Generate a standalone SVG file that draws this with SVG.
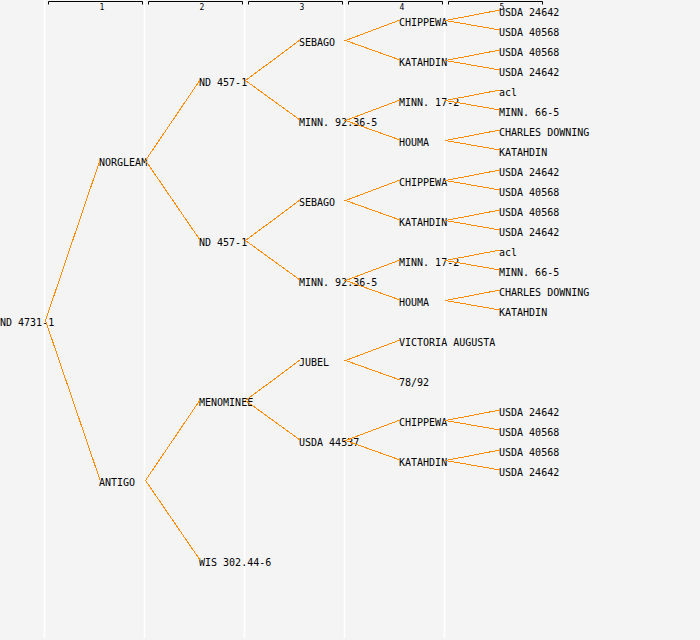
<svg xmlns="http://www.w3.org/2000/svg" width="700" height="640" viewBox="0 0 700 640">
<style>
.bg{fill:#f4f4f4}
.sep{stroke:#ffffff;stroke-width:1.5}
.br{stroke:#000;stroke-width:1;fill:none}
.hd{font-family:"DejaVu Sans Mono","Liberation Mono",monospace;font-size:8px;fill:#000;text-anchor:middle}
.lb{font-family:"DejaVu Sans Mono","Liberation Mono",monospace;font-size:10px;fill:#000}
.ln{stroke:#ff8c00;stroke-width:1;fill:none;shape-rendering:crispEdges}
</style>
<rect class="bg" x="0" y="0" width="700" height="640"/>
<g id="grid">
<line class="sep" x1="44.5" y1="0" x2="44.5" y2="638"/>
<line class="sep" x1="144.5" y1="0" x2="144.5" y2="638"/>
<line class="sep" x1="244.5" y1="0" x2="244.5" y2="638"/>
<line class="sep" x1="344.5" y1="0" x2="344.5" y2="638"/>
<line class="sep" x1="444.5" y1="0" x2="444.5" y2="638"/>
</g>
<g id="header">
<path class="br" d="M48.5 4.5V1.5H142.5V4.5"/><text class="hd" x="102" y="9.5">1</text>
<path class="br" d="M148.5 4.5V1.5H242.5V4.5"/><text class="hd" x="202" y="9.5">2</text>
<path class="br" d="M248.5 4.5V1.5H342.5V4.5"/><text class="hd" x="302" y="9.5">3</text>
<path class="br" d="M348.5 4.5V1.5H442.5V4.5"/><text class="hd" x="402" y="9.5">4</text>
<path class="br" d="M448.5 4.5V1.5H542.5V4.5"/><text class="hd" x="502" y="9.5">5</text>
</g>
<g id="nodes">
<g id="n0"><text class="lb" x="0" y="326">ND 4731-1</text></g>
<g id="n1"><text class="lb" x="99" y="166">NORGLEAM</text></g>
<g id="n2"><text class="lb" x="99" y="486">ANTIGO</text></g>
<g id="n3"><text class="lb" x="199" y="86">ND 457-1</text></g>
<g id="n4"><text class="lb" x="199" y="246">ND 457-1</text></g>
<g id="n5"><text class="lb" x="199" y="406">MENOMINEE</text></g>
<g id="n6"><text class="lb" x="199" y="566">WIS 302.44-6</text></g>
<g id="n7"><text class="lb" x="299" y="46">SEBAGO</text></g>
<g id="n8"><text class="lb" x="299" y="126">MINN. 92.36-5</text></g>
<g id="n9"><text class="lb" x="299" y="206">SEBAGO</text></g>
<g id="n10"><text class="lb" x="299" y="286">MINN. 92.36-5</text></g>
<g id="n11"><text class="lb" x="299" y="366">JUBEL</text></g>
<g id="n12"><text class="lb" x="299" y="446">USDA 44537</text></g>
<g id="n13"><text class="lb" x="399" y="26">CHIPPEWA</text></g>
<g id="n14"><text class="lb" x="399" y="66">KATAHDIN</text></g>
<g id="n15"><text class="lb" x="399" y="106">MINN. 17-2</text></g>
<g id="n16"><text class="lb" x="399" y="146">HOUMA</text></g>
<g id="n17"><text class="lb" x="399" y="186">CHIPPEWA</text></g>
<g id="n18"><text class="lb" x="399" y="226">KATAHDIN</text></g>
<g id="n19"><text class="lb" x="399" y="266">MINN. 17-2</text></g>
<g id="n20"><text class="lb" x="399" y="306">HOUMA</text></g>
<g id="n21"><text class="lb" x="399" y="346">VICTORIA AUGUSTA</text></g>
<g id="n22"><text class="lb" x="399" y="386">78/92</text></g>
<g id="n23"><text class="lb" x="399" y="426">CHIPPEWA</text></g>
<g id="n24"><text class="lb" x="399" y="466">KATAHDIN</text></g>
<g id="n25"><text class="lb" x="499" y="16">USDA 24642</text></g>
<g id="n26"><text class="lb" x="499" y="36">USDA 40568</text></g>
<g id="n27"><text class="lb" x="499" y="56">USDA 40568</text></g>
<g id="n28"><text class="lb" x="499" y="76">USDA 24642</text></g>
<g id="n29"><text class="lb" x="499" y="96">acl</text></g>
<g id="n30"><text class="lb" x="499" y="116">MINN. 66-5</text></g>
<g id="n31"><text class="lb" x="499" y="136">CHARLES DOWNING</text></g>
<g id="n32"><text class="lb" x="499" y="156">KATAHDIN</text></g>
<g id="n33"><text class="lb" x="499" y="176">USDA 24642</text></g>
<g id="n34"><text class="lb" x="499" y="196">USDA 40568</text></g>
<g id="n35"><text class="lb" x="499" y="216">USDA 40568</text></g>
<g id="n36"><text class="lb" x="499" y="236">USDA 24642</text></g>
<g id="n37"><text class="lb" x="499" y="256">acl</text></g>
<g id="n38"><text class="lb" x="499" y="276">MINN. 66-5</text></g>
<g id="n39"><text class="lb" x="499" y="296">CHARLES DOWNING</text></g>
<g id="n40"><text class="lb" x="499" y="316">KATAHDIN</text></g>
<g id="n41"><text class="lb" x="499" y="416">USDA 24642</text></g>
<g id="n42"><text class="lb" x="499" y="436">USDA 40568</text></g>
<g id="n43"><text class="lb" x="499" y="456">USDA 40568</text></g>
<g id="n44"><text class="lb" x="499" y="476">USDA 24642</text></g>
</g>
<g id="connectors">
<path class="ln" d="M100 160L45.5 320.5L100 480"/>
<path class="ln" d="M200 80L145.5 160.5L200 240"/>
<path class="ln" d="M200 400L145.5 480.5L200 560"/>
<path class="ln" d="M300 40L245.5 80.5L300 120"/>
<path class="ln" d="M300 200L245.5 240.5L300 280"/>
<path class="ln" d="M300 360L245.5 400.5L300 440"/>
<path class="ln" d="M400 20L345.5 40.5L400 60"/>
<path class="ln" d="M400 100L345.5 120.5L400 140"/>
<path class="ln" d="M400 180L345.5 200.5L400 220"/>
<path class="ln" d="M400 260L345.5 280.5L400 300"/>
<path class="ln" d="M400 340L345.5 360.5L400 380"/>
<path class="ln" d="M400 420L345.5 440.5L400 460"/>
<path class="ln" d="M500 10L445.5 20.5L500 30"/>
<path class="ln" d="M500 50L445.5 60.5L500 70"/>
<path class="ln" d="M500 90L445.5 100.5L500 110"/>
<path class="ln" d="M500 130L445.5 140.5L500 150"/>
<path class="ln" d="M500 170L445.5 180.5L500 190"/>
<path class="ln" d="M500 210L445.5 220.5L500 230"/>
<path class="ln" d="M500 250L445.5 260.5L500 270"/>
<path class="ln" d="M500 290L445.5 300.5L500 310"/>
<path class="ln" d="M500 410L445.5 420.5L500 430"/>
<path class="ln" d="M500 450L445.5 460.5L500 470"/>
</g>
</svg>
